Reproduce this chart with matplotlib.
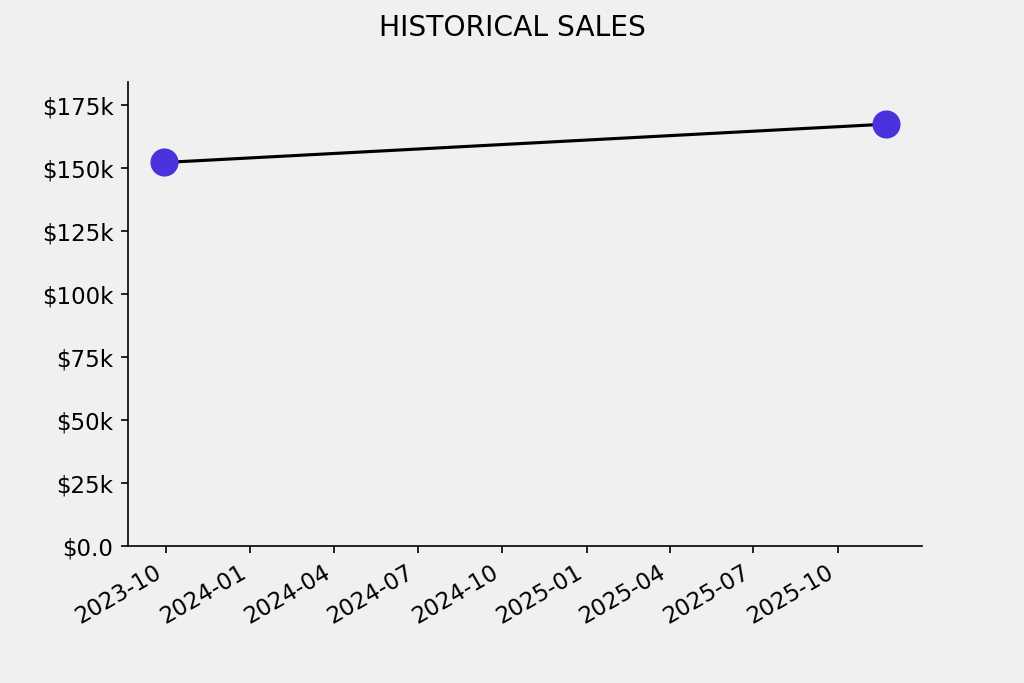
import matplotlib
matplotlib.use('Agg')
import matplotlib.pyplot as plt
import matplotlib.dates as mdates
import matplotlib.ticker as mticker
import numpy as np
import pandas as pd

# data
dates = pd.to_datetime(['2023-09-29', '2025-11-22'])
sales = [152300, 167500]

fig, ax = plt.subplots(figsize=(1024 / 150, 683 / 150), dpi=150)
fig.patch.set_facecolor('#f0f0f0')
ax.set_facecolor('#f0f0f0')

ax.plot(dates, sales, color='black', linewidth=1.5, zorder=2)
ax.plot(dates, sales, linestyle='none', marker='o', markersize=13.5,
        color='#4a33dd', markeredgewidth=0, zorder=3)

ax.set_ylim(0, max(sales) * 1.1)


def money(v, pos):
    if v == 0:
        return '$0.0'
    return f'${v / 1000:.0f}k'


ax.yaxis.set_major_formatter(mticker.FuncFormatter(money))
ax.xaxis.set_major_locator(mdates.MonthLocator(bymonth=[1, 4, 7, 10]))
ax.xaxis.set_major_formatter(mdates.DateFormatter('%Y-%m'))
ax.tick_params(labelsize=11)

ax.spines['top'].set_visible(False)
ax.spines['right'].set_visible(False)

fig.suptitle('HISTORICAL SALES', fontsize=13.5)
fig.autofmt_xdate()

plt.savefig('out.png', dpi=150, facecolor=fig.get_facecolor())
